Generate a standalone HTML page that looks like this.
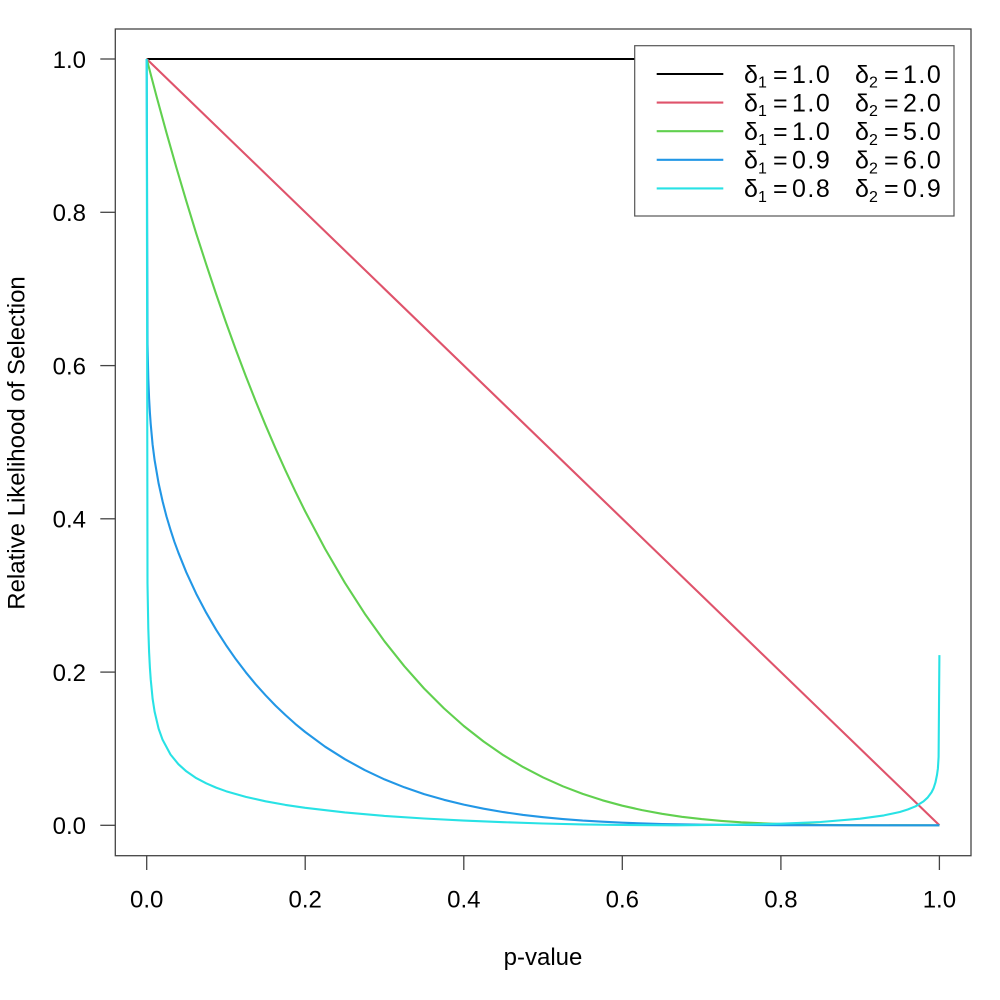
<!DOCTYPE html>
<html>
<head>
<meta charset="utf-8">
<style>
html,body{margin:0;padding:0;background:#fff;}
svg{display:block;}
text{font-family:"Liberation Sans",Arial,sans-serif;fill:#000;}
</style>
</head>
<body>
<svg width="1000" height="1000" viewBox="0 0 1000 1000" xmlns="http://www.w3.org/2000/svg">
<rect x="0" y="0" width="1000" height="1000" fill="#fff"/>

<!-- series -->
<g fill="none" stroke-width="2.1" stroke-linejoin="round" stroke-linecap="butt">
<path d="M146.7,59 L939.4,59" stroke="#000000"/>
<path d="M146.7,59 L939.4,825.3" stroke="#DF536B"/>
<polyline stroke="#61D04F" points="146.7,59.0 156.6,96.6 166.5,132.8 176.4,167.6 186.3,201.1 196.2,233.4 206.2,264.3 216.1,294.0 226.0,322.5 235.9,349.9 245.8,376.1 255.7,401.2 265.6,425.3 275.5,448.3 285.4,470.3 295.3,491.3 305.2,511.4 325.1,548.9 344.9,582.8 364.7,613.6 384.5,641.3 404.3,666.2 424.1,688.5 444.0,708.4 463.8,726.0 483.6,741.5 503.4,755.2 523.2,767.1 543.1,777.4 562.9,786.3 582.7,793.9 602.5,800.3 622.3,805.7 642.1,810.1 662.0,813.8 681.8,816.8 701.6,819.1 721.4,820.9 741.2,822.3 780.9,824.1 820.5,824.9 860.1,825.2 939.4,825.3"/>
<polyline stroke="#2297E6" points="146.7,59.0 147.5,344.2 148.3,378.7 149.1,398.6 149.9,412.7 150.7,423.9 152.6,444.6 154.6,460.1 158.6,483.4 162.6,501.4 166.5,516.5 170.5,529.8 174.4,541.8 178.4,552.7 186.3,572.3 196.2,593.7 206.2,612.7 216.1,629.7 226.0,645.1 235.9,659.3 245.8,672.3 255.7,684.3 265.6,695.3 275.5,705.6 285.4,715.0 295.3,723.9 305.2,732.0 325.1,746.7 344.9,759.2 364.7,770.1 384.5,779.4 404.3,787.3 424.1,794.1 444.0,799.8 463.8,804.6 483.6,808.7 503.4,812.1 523.2,814.9 543.1,817.2 562.9,819.05 582.7,820.6 602.5,821.7 622.3,822.7 662.0,824.0 701.6,824.7 780.9,825.2 939.4,825.3"/>
<polyline stroke="#28E2E5" points="146.7,59.0 147.5,583.7 148.3,628.6 149.1,652.1 149.9,667.7 150.7,679.1 152.6,698.7 154.6,711.6 158.6,728.6 162.6,739.8 170.5,754.5 178.4,764.2 186.3,771.3 196.2,778.1 206.2,783.3 216.1,787.6 226.0,791.2 245.8,796.9 265.6,801.3 285.4,804.9 305.2,807.8 344.9,812.4 384.5,815.9 424.1,818.5 463.8,820.6 503.4,822.2 543.1,823.5 582.7,824.4 622.3,825.0 675.2,825.3 741.2,824.7 780.9,823.7 820.5,822.0 860.1,818.7 883.9,815.4 899.8,812.0 907.7,809.5 915.6,806.3 923.5,801.4 927.5,797.7 931.5,792.4 933.5,788.4 935.4,782.6 937.0,774.9 937.9,768.5 938.6,756.8 939.4,655.1"/>
</g>

<!-- plot box -->
<rect x="115.3" y="29" width="855.7" height="826.7" fill="none" stroke="#444" stroke-width="1.3"/>

<!-- ticks -->
<g stroke="#444" stroke-width="1.3">
<line x1="100.3" y1="825.3" x2="115.3" y2="825.3"/>
<line x1="100.3" y1="672.1" x2="115.3" y2="672.1"/>
<line x1="100.3" y1="518.8" x2="115.3" y2="518.8"/>
<line x1="100.3" y1="365.6" x2="115.3" y2="365.6"/>
<line x1="100.3" y1="212.3" x2="115.3" y2="212.3"/>
<line x1="100.3" y1="59.0" x2="115.3" y2="59.0"/>
<line x1="146.7" y1="855.7" x2="146.7" y2="870"/>
<line x1="305.2" y1="855.7" x2="305.2" y2="870"/>
<line x1="463.8" y1="855.7" x2="463.8" y2="870"/>
<line x1="622.3" y1="855.7" x2="622.3" y2="870"/>
<line x1="780.9" y1="855.7" x2="780.9" y2="870"/>
<line x1="939.4" y1="855.7" x2="939.4" y2="870"/>
</g>

<g font-size="24" text-anchor="end">
<text x="86" y="834.1">0.0</text>
<text x="86" y="680.9">0.2</text>
<text x="86" y="527.6">0.4</text>
<text x="86" y="374.4">0.6</text>
<text x="86" y="221.1">0.8</text>
<text x="86" y="67.8">1.0</text>
</g>
<g font-size="24" text-anchor="middle">
<text x="146.7" y="907.5">0.0</text>
<text x="305.2" y="907.5">0.2</text>
<text x="463.8" y="907.5">0.4</text>
<text x="622.3" y="907.5">0.6</text>
<text x="780.9" y="907.5">0.8</text>
<text x="939.4" y="907.5">1.0</text>
<text x="543" y="965">p-value</text>
<text transform="translate(24.5,443) rotate(-90)" x="0" y="0">Relative Likelihood of Selection</text>
</g>

<!-- legend -->
<rect x="634.7" y="45.7" width="319.3" height="170.3" fill="#fff" stroke="#555" stroke-width="1.2"/>
<g stroke-width="2.1">
<line x1="656.7" y1="74" x2="723.3" y2="74" stroke="#000000"/>
<line x1="656.7" y1="102.6" x2="723.3" y2="102.6" stroke="#DF536B"/>
<line x1="656.7" y1="131.2" x2="723.3" y2="131.2" stroke="#61D04F"/>
<line x1="656.7" y1="159.8" x2="723.3" y2="159.8" stroke="#2297E6"/>
<line x1="656.7" y1="188.4" x2="723.3" y2="188.4" stroke="#28E2E5"/>
</g>
<g font-size="25">
<!-- row 1 -->
<text x="744" y="82.8">δ</text><text x="758" y="87.6" font-size="16">1</text><text x="773" y="82.8">=</text><text x="792" y="82.8" letter-spacing="1.5">1.0</text>
<text x="855" y="82.8">δ</text><text x="869" y="87.6" font-size="16">2</text><text x="884" y="82.8">=</text><text x="903" y="82.8" letter-spacing="1.5">1.0</text>
<!-- row 2 -->
<text x="744" y="111.4">δ</text><text x="758" y="116.2" font-size="16">1</text><text x="773" y="111.4">=</text><text x="792" y="111.4" letter-spacing="1.5">1.0</text>
<text x="855" y="111.4">δ</text><text x="869" y="116.2" font-size="16">2</text><text x="884" y="111.4">=</text><text x="903" y="111.4" letter-spacing="1.5">2.0</text>
<!-- row 3 -->
<text x="744" y="140">δ</text><text x="758" y="144.8" font-size="16">1</text><text x="773" y="140">=</text><text x="792" y="140" letter-spacing="1.5">1.0</text>
<text x="855" y="140">δ</text><text x="869" y="144.8" font-size="16">2</text><text x="884" y="140">=</text><text x="903" y="140" letter-spacing="1.5">5.0</text>
<!-- row 4 -->
<text x="744" y="168.6">δ</text><text x="758" y="173.4" font-size="16">1</text><text x="773" y="168.6">=</text><text x="792" y="168.6" letter-spacing="1.5">0.9</text>
<text x="855" y="168.6">δ</text><text x="869" y="173.4" font-size="16">2</text><text x="884" y="168.6">=</text><text x="903" y="168.6" letter-spacing="1.5">6.0</text>
<!-- row 5 -->
<text x="744" y="197.2">δ</text><text x="758" y="202" font-size="16">1</text><text x="773" y="197.2">=</text><text x="792" y="197.2" letter-spacing="1.5">0.8</text>
<text x="855" y="197.2">δ</text><text x="869" y="202" font-size="16">2</text><text x="884" y="197.2">=</text><text x="903" y="197.2" letter-spacing="1.5">0.9</text>
</g>
</svg>
</body>
</html>
